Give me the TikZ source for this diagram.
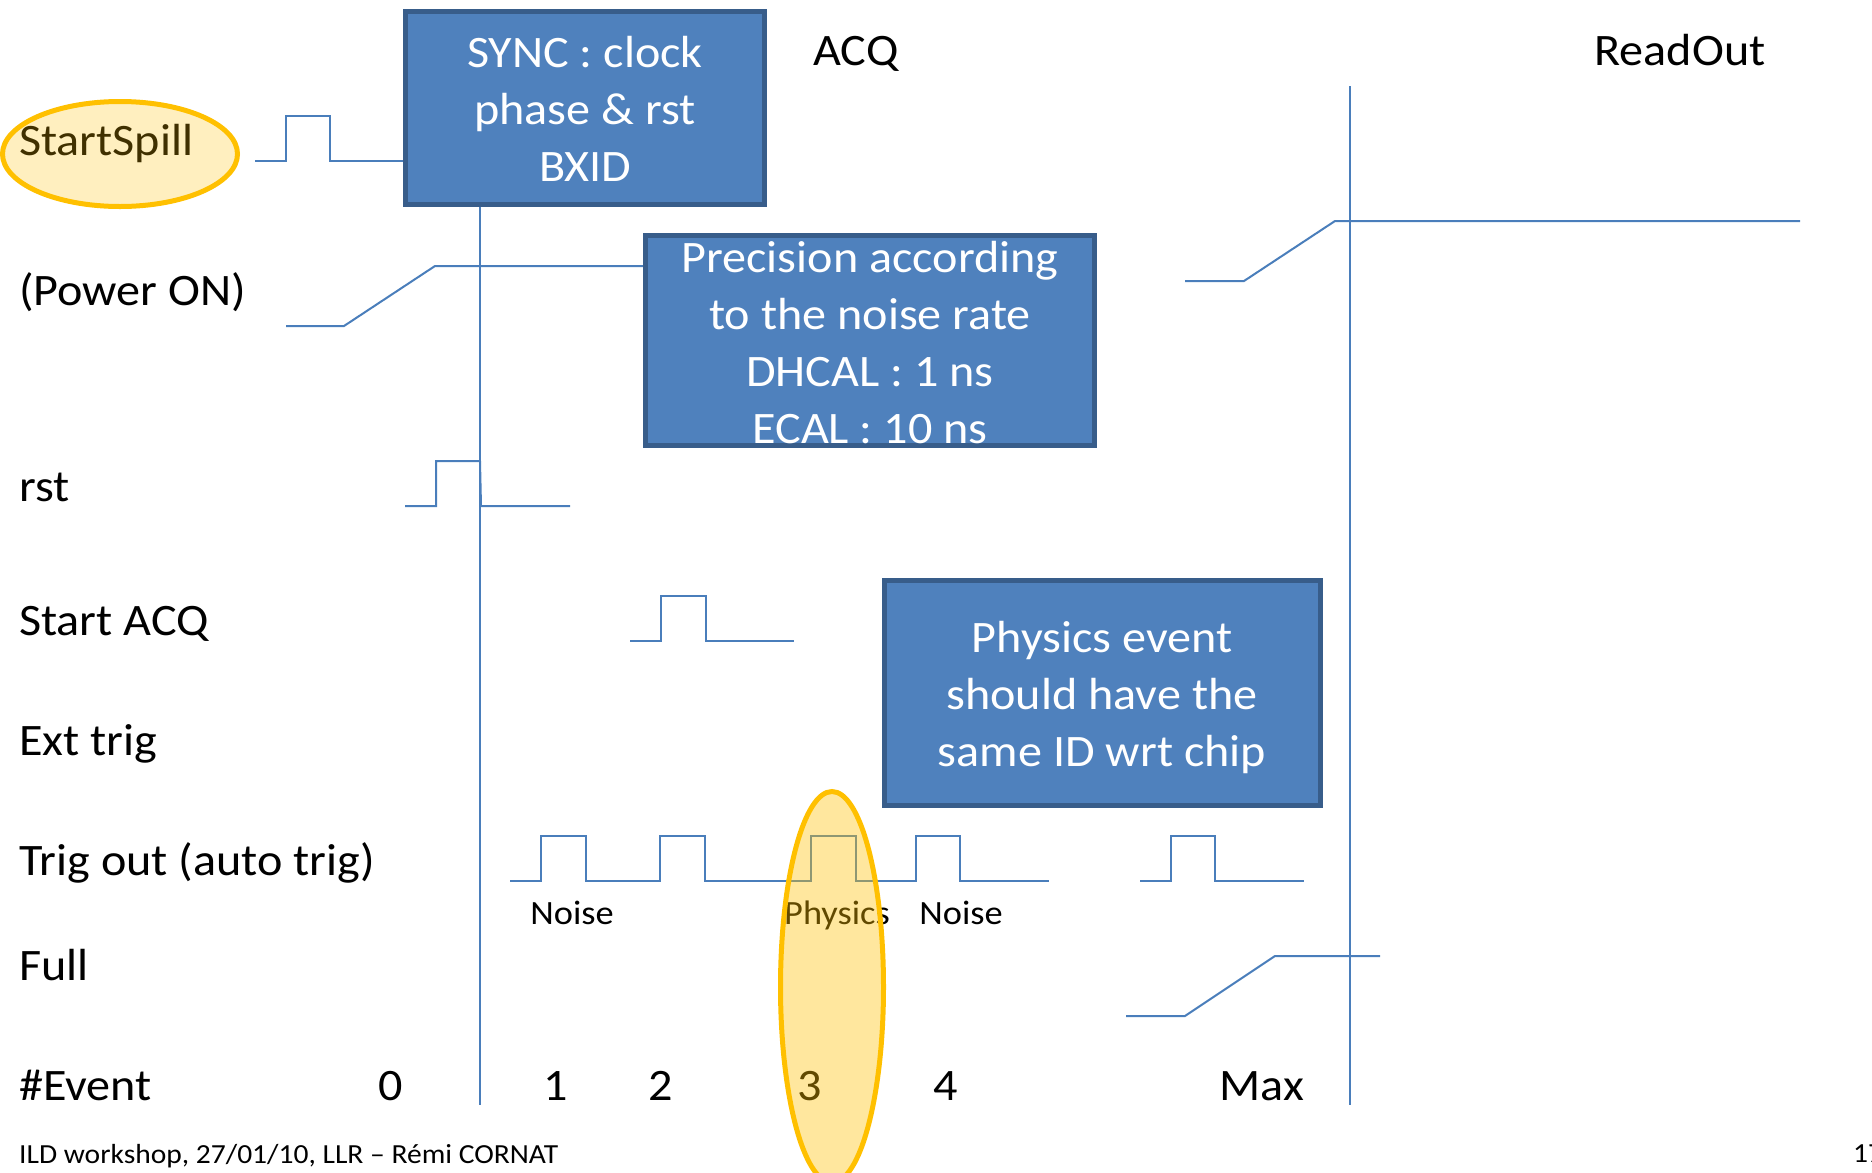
\documentclass[tikz,border=0pt]{standalone}
\usepackage{fontspec}
\setmainfont{Carlito}[FakeStretch=1.07]
\usetikzlibrary{shapes.geometric}
\definecolor{wavecol}{HTML}{4A7EBB}
\definecolor{boxfill}{HTML}{4F81BD}
\definecolor{boxline}{HTML}{385D8A}
\definecolor{hilite}{HTML}{FFC000}
\newcommand{\stacklines}[1]{\begin{tabular}[t]{@{}c@{}}#1\end{tabular}}

\begin{document}
\begin{tikzpicture}[x=1pt,y=-1pt,
  trace/.style={draw=wavecol, line width=2pt, line join=miter},
  infobox/.style={rectangle, draw=boxline, fill=boxfill, line width=5pt, inner sep=0pt},
  boxtext/.style={anchor=base, inner sep=0pt, text=white, font=\fontsize{45}{57}\selectfont},
  sig/.style={anchor=base west, inner sep=0pt, font=\fontsize{45}{54}\selectfont},
  num/.style={anchor=base, inner sep=0pt, font=\fontsize{45}{54}\selectfont},
  tag/.style={anchor=base, inner sep=0pt, font=\fontsize{34}{40}\selectfont},
  foot/.style={anchor=base west, inner sep=0pt, font=\fontsize{27.6}{33}\selectfont},
  ring/.style={ellipse, draw=hilite, line width=5pt, fill=hilite, fill opacity=0.3, inner sep=0pt}
]
\useasboundingbox (0,0) rectangle (1872,1173);

% time markers: end of SYNC and start of ReadOut
\coordinate (t0top) at (480,207);
\coordinate (t0bot) at (480,1105);
\coordinate (t1top) at (1350,86);
\coordinate (t1bot) at (1350,1105);
\draw[trace] (t0top) -- (t0bot);
\draw[trace] (t1top) -- (t1bot);

% StartSpill pulse
\draw[trace] (255,161) -- (286,161) -- (286,116) -- (330,116) -- (330,161) -- (403,161);
% Power ON ramps
\draw[trace] (286,326) -- (344,326) -- (435,266) -- (643,266);
\draw[trace] (1185,281) -- (1244,281) -- (1335,221) -- (1800,221);
% rst pulse
\draw[trace] (405,506) -- (436,506) -- (436,461) -- (480,461) -- (481,506) -- (570,506);
% Start ACQ pulse
\draw[trace] (630,641) -- (661,641) -- (661,596) -- (706,596) -- (706,641) -- (794,641);
% Trig out pulses
\draw[trace] (510,881) -- (541,881) -- (541,836) -- (586,836) -- (586,881)
  -- (660,881) -- (660,836) -- (705,836) -- (705,881)
  -- (811,881) -- (811,836) -- (856,836) -- (856,881)
  -- (916,881) -- (916,836) -- (960,836) -- (960,881) -- (1049,881);
\draw[trace] (1140,881) -- (1171,881) -- (1171,836) -- (1215,836) -- (1215,881) -- (1304,881);
% Full ramp
\draw[trace] (1126,1016) -- (1185,1016) -- (1275,956) -- (1380,956);

% explanation boxes
\node[infobox, minimum width=359pt, minimum height=193pt] (sync) at (585,108) {};
\node[boxtext] (synctext) at (585,67) {\stacklines{SYNC : clock\\phase \& rst\\BXID}};
\node[infobox, minimum width=449pt, minimum height=210pt] (prec) at (870,340.5) {};
\node[boxtext] (prectext) at (870,272) {\stacklines{Precision according\\to the noise rate\\DHCAL : 1 ns\\ECAL : 10 ns}};
\node[infobox, minimum width=436pt, minimum height=225pt] (phys) at (1102.5,693) {};
\node[boxtext] (phystext) at (1102,652) {\stacklines{Physics event\\should have the\\same ID wrt chip}};

% phase titles
\node[num] (acq) at (856,65) {ACQ};
\node[num] (readout) at (1680,65) {ReadOut};

% signal names
\node[sig] (lspill) at (19,155) {StartSpill};
\node[sig] (lpower) at (19,305) {(Power ON)};
\node[sig] (lrst) at (19,501) {rst};
\node[sig] (lstart) at (19,635) {Start ACQ};
\node[sig] (lext) at (19,755) {Ext trig};
\node[sig] (ltrig) at (19,875) {Trig out (auto trig)};
\node[sig] (lfull) at (19,980) {Full};
\node[sig] (levent) at (19,1100) {\#Event};

% trigger annotations
\node[tag] (noise1) at (572,924) {Noise};
\node[tag] (physics) at (837,924) {Physics};
\node[tag] (noise2) at (961,924) {Noise};

% event counter
\node[num] (ev0) at (391,1100) {0};
\node[num] (ev1) at (556,1100) {1};
\node[num] (ev2) at (661,1100) {2};
\node[num] (ev3) at (810,1100) {3};
\node[num] (ev4) at (946,1100) {4};
\node[num] (evmax) at (1262,1100) {Max};

% footer
\node[foot] (footer) at (19,1163) {ILD workshop, 27/01/10, LLR – Rémi CORNAT};
\node[foot] (page) at (1853,1162) {17};

% highlights
\node[ring, fill opacity=0.25, minimum width=235pt, minimum height=105pt] (spillring) at (120,154) {};
\node[ring, fill opacity=0.38, minimum width=103pt, minimum height=391pt] (physring) at (832,987) {};
\end{tikzpicture}
\end{document}
